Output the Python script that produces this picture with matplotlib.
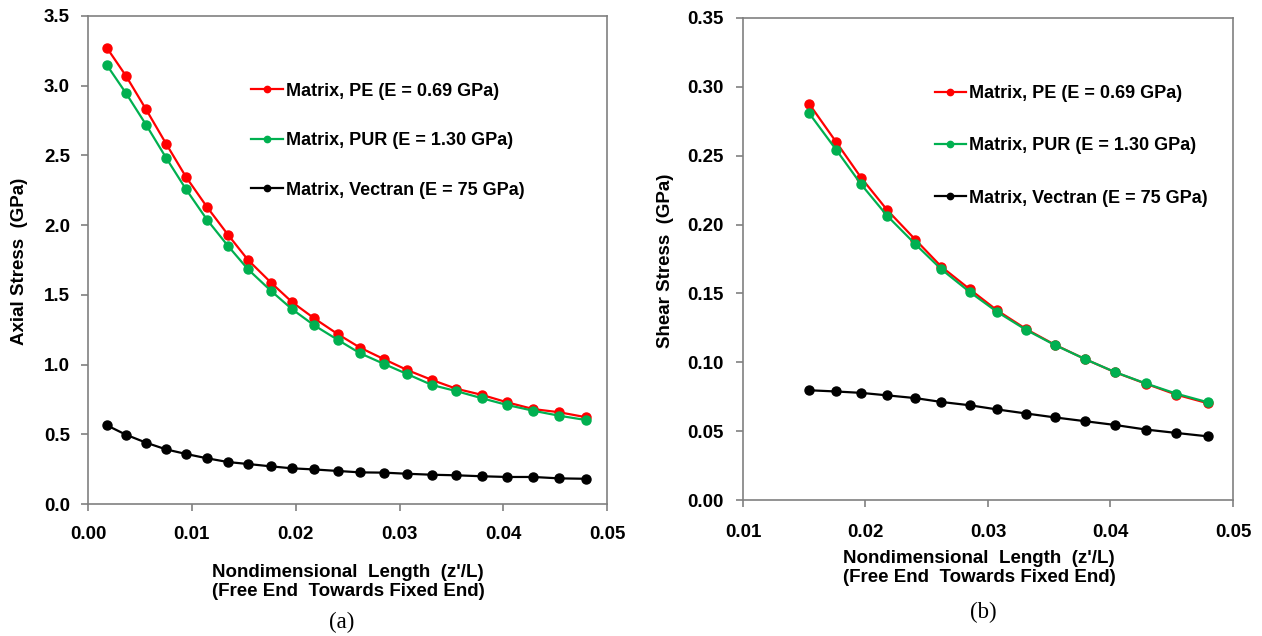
import matplotlib.pyplot as plt
import numpy as np

plt.rcParams['font.family'] = ['Liberation Sans', 'DejaVu Sans']

# Nondimensional length z'/L (free end towards fixed end)
z_axial = [0.00183, 0.00366, 0.00559, 0.00751, 0.00944, 0.01146, 0.01349,
           0.01541, 0.01763, 0.01965, 0.02177, 0.02408, 0.02620, 0.02852,
           0.03073, 0.03314, 0.03545, 0.03796, 0.04037, 0.04287, 0.04538,
           0.04798]
z_shear = z_axial[7:]

# Axial stress (GPa)
axial_pe = [3.27, 3.07, 2.83, 2.585, 2.345, 2.13, 1.93, 1.75, 1.587, 1.448,
            1.332, 1.217, 1.121, 1.038, 0.961, 0.889, 0.827, 0.782, 0.729,
            0.681, 0.658, 0.622]
axial_pur = [3.146, 2.946, 2.72, 2.484, 2.257, 2.039, 1.85, 1.683, 1.528,
             1.397, 1.282, 1.176, 1.081, 1.004, 0.932, 0.853, 0.81, 0.758,
             0.71, 0.669, 0.633, 0.602]
axial_vec = [0.564, 0.497, 0.44, 0.392, 0.359, 0.328, 0.301, 0.287, 0.27,
             0.256, 0.248, 0.237, 0.227, 0.225, 0.217, 0.21, 0.206, 0.199,
             0.194, 0.194, 0.184, 0.181]

# Shear stress (GPa)
shear_pe = [0.2876, 0.2597, 0.2340, 0.2106, 0.1890, 0.1694, 0.1530, 0.1378,
            0.1240, 0.1128, 0.1022, 0.0928, 0.0845, 0.0765, 0.0702]
shear_pur = [0.2808, 0.2541, 0.2292, 0.2064, 0.1857, 0.1675, 0.1510, 0.1367,
             0.1234, 0.1126, 0.1022, 0.0929, 0.0847, 0.0772, 0.0709]
shear_vec = [0.0797, 0.0788, 0.0778, 0.0760, 0.0740, 0.0712, 0.0688, 0.0658,
             0.0628, 0.0600, 0.0572, 0.0545, 0.0512, 0.0487, 0.0462]

labels = ['Matrix, PE (E = 0.69 GPa)', 'Matrix, PUR (E = 1.30 GPa)',
          'Matrix, Vectran (E = 75 GPa)']
colors = ['#ff0000', '#00b050', '#000000']

xlab = "Nondimensional  Length  (z'/L)\n(Free End  Towards Fixed End)"

fig = plt.figure(figsize=(12.62, 6.36), dpi=100)
ax1 = fig.add_axes([0.0697, 0.2075, 0.4115, 0.7675])
ax2 = fig.add_axes([0.5887, 0.2138, 0.3883, 0.7579])


def style_axes(ax, xpad, ypad):
    for side in ['left', 'bottom', 'right', 'top']:
        ax.spines[side].set_color('#808080')
        ax.spines[side].set_linewidth(1.2)
    ax.tick_params(direction='out', length=5, width=1.2, color='#808080',
                   labelsize=13.5)
    ax.tick_params(axis='x', pad=xpad)
    ax.tick_params(axis='y', pad=ypad)
    for lab in ax.get_xticklabels() + ax.get_yticklabels():
        lab.set_fontweight('bold')


def draw(ax, x, series):
    for y, c, lab in zip(series, colors, labels):
        ax.plot(x, y, color=c, lw=1.6, marker='o', ms=6.5, label=lab)


# (a) axial stress
draw(ax1, z_axial, [axial_pe, axial_pur, axial_vec])
ax1.set_xlim(0, 0.05)
ax1.set_ylim(0, 3.5)
ax1.set_xticks(np.arange(0, 0.051, 0.01))
ax1.set_xticklabels(['0.00', '0.01', '0.02', '0.03', '0.04', '0.05'])
ax1.set_yticks(np.arange(0, 3.51, 0.5))
ax1.set_yticklabels(['%.1f' % v for v in np.arange(0, 3.51, 0.5)])
style_axes(ax1, 11, 8)
ax1.legend(loc='upper left', bbox_to_anchor=(0.199, 0.870),
           bbox_transform=fig.transFigure, frameon=False, borderpad=0,
           borderaxespad=0, prop={'size': 13, 'weight': 'bold'},
           markerscale=0.7, handlelength=1.75, handletextpad=0.2,
           labelspacing=1.8)

# (b) shear stress
draw(ax2, z_shear, [shear_pe, shear_pur, shear_vec])
ax2.set_xlim(0.01, 0.05)
ax2.set_ylim(0, 0.35)
ax2.set_xticks(np.arange(0.01, 0.051, 0.01))
ax2.set_xticklabels(['0.01', '0.02', '0.03', '0.04', '0.05'])
ax2.set_yticks(np.arange(0, 0.351, 0.05))
ax2.set_yticklabels(['%.2f' % v for v in np.arange(0, 0.351, 0.05)])
style_axes(ax2, 12, 9)
ax2.legend(loc='upper left', bbox_to_anchor=(0.741, 0.866),
           bbox_transform=fig.transFigure, frameon=False, borderpad=0,
           borderaxespad=0, prop={'size': 13, 'weight': 'bold'},
           markerscale=0.7, handlelength=1.7, handletextpad=0.15,
           labelspacing=1.95)

# axis titles
fig.text(20 / 1262, 1 - 261 / 636, 'Axial Stress  (GPa)', rotation=90,
         fontsize=13.5, fontweight='bold', ha='center', va='center')
fig.text(666 / 1262, 1 - 261 / 636, 'Shear Stress  (GPa)', rotation=90,
         fontsize=13.5, fontweight='bold', ha='center', va='center')
fig.text(348 / 1262, 1 - 582 / 636, xlab, fontsize=13.5, fontweight='bold',
         ha='center', va='center', linespacing=1.1)
fig.text(979 / 1262, 1 - 568 / 636, xlab, fontsize=13.5, fontweight='bold',
         ha='center', va='center', linespacing=1.1)

# panel captions
fig.text(342 / 1262, 1 - 622 / 636, '(a)', fontsize=16.5,
         family='Liberation Serif', ha='center', va='center')
fig.text(983 / 1262, 1 - 612 / 636, '(b)', fontsize=16.5,
         family='Liberation Serif', ha='center', va='center')

fig.savefig('out.png', dpi=100)
